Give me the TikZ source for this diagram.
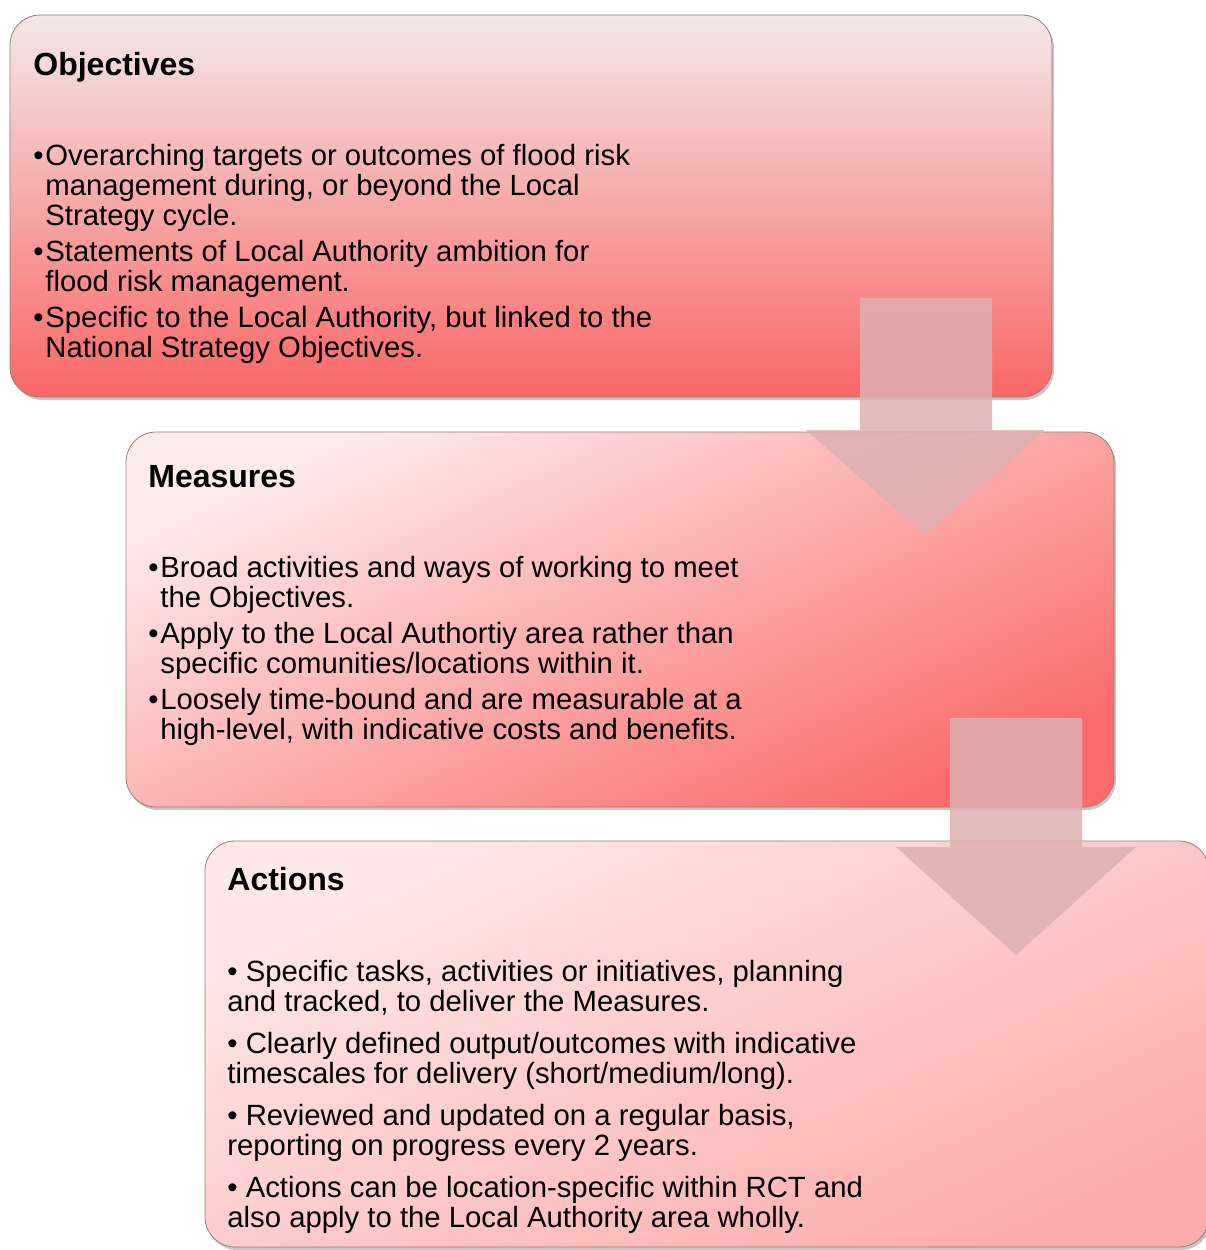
\documentclass[tikz,border=0pt]{standalone}
\usepackage{fontspec}
\setmainfont{Liberation Sans}
\usetikzlibrary{shadows}
\definecolor{boxline}{RGB}{150,125,125}
\definecolor{objtop}{RGB}{244,232,232}
\definecolor{objmid}{RGB}{238,208,208}
\definecolor{objbot}{RGB}{250,102,102}
\definecolor{meastop}{RGB}{254,236,236}
\definecolor{measmid}{RGB}{252,178,178}
\definecolor{measbot}{RGB}{250,108,108}
\definecolor{acttop}{RGB}{255,232,232}
\definecolor{actmid}{RGB}{253,200,200}
\definecolor{actbot}{RGB}{252,172,172}
\definecolor{arrowpink}{RGB}{222,176,176}

\begin{document}
\begin{tikzpicture}[x=0.5pt,y=-0.5pt,
  stage/.style={rounded corners=15pt,draw=boxline,line width=0.4pt,inner sep=0,
    drop shadow={shadow xshift=1pt,shadow yshift=-1.5pt,opacity=0.45}},
  heading/.style={anchor=base west,inner sep=0,font=\fontsize{16}{18}\selectfont\bfseries},
  points/.style={anchor=north west,inner sep=0,align=left,font=\fontsize{14.65}{15}\selectfont},
  flow/.style={fill=arrowpink,fill opacity=0.85}]
\clip (0,0) rectangle (1206,1250);
\node[stage,minimum width=521pt,minimum height=191pt,top color=objtop,middle color=objmid,bottom color=objbot] (obj) at (531,206) {};
\node[stage,minimum width=494pt,minimum height=187.5pt,top color=meastop,middle color=measmid,bottom color=measbot,shading angle=25] (meas) at (620,619.5) {};
\node[stage,minimum width=502pt,minimum height=203pt,top color=acttop,middle color=actmid,bottom color=actbot,shading angle=25] (act) at (707,1044) {};
\node[heading] (objhead) at (33,75) {Objectives};
\node[points] (objtext) at (33,144) {\makebox[6pt][l]{\textbullet}Overarching targets or outcomes of flood risk\\
\hspace*{6pt}management during, or beyond the Local\\
\hspace*{6pt}Strategy cycle.\\[3pt]
\makebox[6pt][l]{\textbullet}Statements of Local Authority ambition for\\
\hspace*{6pt}flood risk management.\\[3pt]
\makebox[6pt][l]{\textbullet}Specific to the Local Authority, but linked to the\\
\hspace*{6pt}National Strategy Objectives.};
\node[heading] (meashead) at (148,487) {Measures};
\node[points] (meastext) at (148,556) {\makebox[6pt][l]{\textbullet}Broad activities and ways of working to meet\\
\hspace*{6pt}the Objectives.\\[3pt]
\makebox[6pt][l]{\textbullet}Apply to the Local Authortiy area rather than\\
\hspace*{6pt}specific comunities/locations within it.\\[3pt]
\makebox[6pt][l]{\textbullet}Loosely time-bound and are measurable at a\\
\hspace*{6pt}high-level, with indicative costs and benefits.};
\node[heading] (acthead) at (227,890) {Actions};
\node[points] (acttext) at (227,960) {\textbullet{} Specific tasks, activities or initiatives, planning\\
and tracked, to deliver the Measures.\\[6pt]
\textbullet{} Clearly defined output/outcomes with indicative\\
timescales for delivery (short/medium/long).\\[6pt]
\textbullet{} Reviewed and updated on a regular basis,\\
reporting on progress every 2 years.\\[6pt]
\textbullet{} Actions can be location-specific within RCT and\\
also apply to the Local Authority area wholly.};
\fill[flow] (860,298) -- (992,298) -- (992,430) -- (1045,430) -- (925,535) -- (806,430) -- (860,430) -- cycle;
\fill[flow] (950,718) -- (1082,718) -- (1082,847) -- (1136,847) -- (1016,955) -- (896,847) -- (950,847) -- cycle;
\end{tikzpicture}
\end{document}
